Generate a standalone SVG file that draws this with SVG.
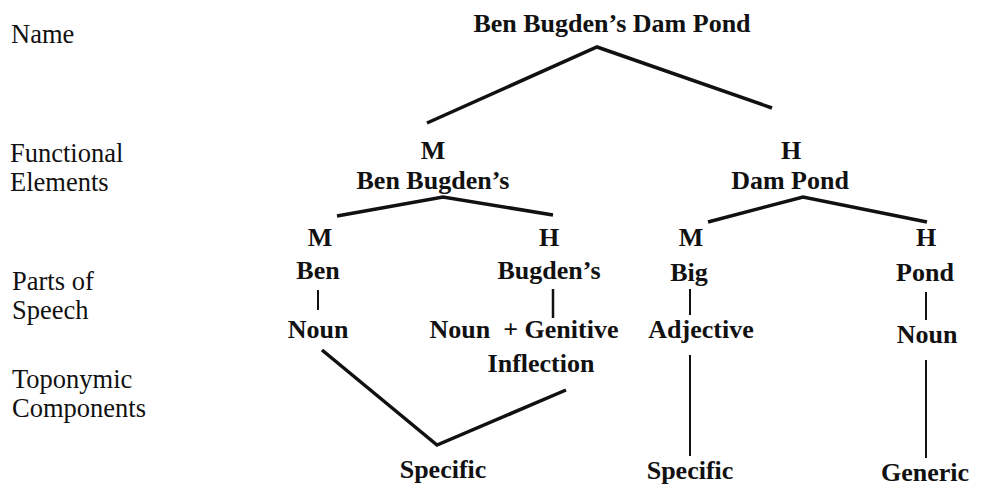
<svg xmlns="http://www.w3.org/2000/svg" width="983" height="491" viewBox="0 0 983 491">
<style>
.lbl{font-family:"Liberation Serif","Times New Roman",serif;font-size:26.5px;fill:#111}
.n{font-family:"Liberation Serif","Times New Roman",serif;font-size:26px;font-weight:bold;fill:#111;text-anchor:middle}
.thick{fill:none;stroke:#111;stroke-width:3.5;stroke-linejoin:miter;stroke-linecap:butt}
.thin{fill:none;stroke:#111;stroke-width:2}
</style>
<rect width="983" height="491" fill="#fff"/>
<g id="labels">
<text class="lbl" x="11" y="43">Name</text>
<text class="lbl" x="10" y="162">Functional</text>
<text class="lbl" x="10" y="191">Elements</text>
<text class="lbl" x="12" y="290">Parts of</text>
<text class="lbl" x="12" y="319">Speech</text>
<text class="lbl" x="12" y="388">Toponymic</text>
<text class="lbl" x="12" y="417">Components</text>
</g>
<g id="root"><text class="n" x="612" y="32">Ben Bugden’s Dam Pond</text></g>
<g id="m1"><text class="n" x="433" y="159">M</text><text class="n" x="433" y="189">Ben Bugden’s</text></g>
<g id="h1"><text class="n" x="791" y="159">H</text><text class="n" x="790" y="189">Dam Pond</text></g>
<g id="m2"><text class="n" x="320" y="246">M</text><text class="n" x="318" y="279">Ben</text></g>
<g id="h2"><text class="n" x="549" y="246">H</text><text class="n" x="549" y="279">Bugden’s</text></g>
<g id="m3"><text class="n" x="691" y="246">M</text><text class="n" x="689" y="281">Big</text></g>
<g id="h3"><text class="n" x="926" y="246">H</text><text class="n" x="925" y="281">Pond</text></g>
<g id="pos1"><text class="n" x="318" y="338">Noun</text></g>
<g id="pos2"><text class="n" x="524" y="338" xml:space="preserve">Noun  + Genitive</text><text class="n" x="541" y="372">Inflection</text></g>
<g id="pos3"><text class="n" x="701" y="338">Adjective</text></g>
<g id="pos4"><text class="n" x="927" y="343">Noun</text></g>
<g id="tc1"><text class="n" x="443" y="478">Specific</text></g>
<g id="tc2"><text class="n" x="690" y="479">Specific</text></g>
<g id="tc3"><text class="n" x="925" y="481">Generic</text></g>
<g id="connectors">
<polyline class="thick" points="427,123 597,47 772,108"/>
<polyline class="thick" points="337,216 443,197 553,215"/>
<polyline class="thick" points="708,222 803,197 927,222"/>
<line class="thin" x1="318" y1="290" x2="318" y2="310"/>
<line class="thin" x1="553" y1="289" x2="553" y2="318" style="stroke-width:2.5"/>
<line class="thin" x1="690" y1="289" x2="690" y2="315"/>
<line class="thin" x1="926" y1="292" x2="926" y2="320"/>
<polyline class="thick" points="322,350 437,445 566,390"/>
<line class="thin" x1="690" y1="355" x2="690" y2="456"/>
<line class="thin" x1="926" y1="360" x2="926" y2="458"/>
</g>
</svg>
